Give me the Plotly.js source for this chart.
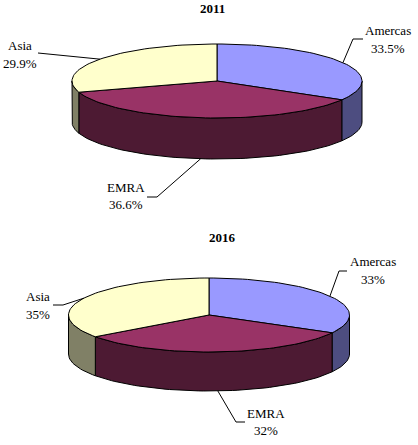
<!DOCTYPE html>
<html>
<head>
<meta charset="utf-8">
<script src="https://cdn.plot.ly/plotly-3.0.1.min.js"></script>
<style>html,body{margin:0;padding:0;background:#fff}#chart{width:418px;height:445px}</style>
</head>
<body>
<div id="chart"></div>
<script>
var categories = ['Amercas', 'EMRA', 'Asia'];
var values2011 = [33.5, 36.6, 29.9];
var values2016 = [33, 32, 35];
var years = ['2011', '2016'];

var topColors = ['#9999FF', '#993366', '#FFFFCC'];
var sideColors = ['#4D4D80', '#4D1A33', '#808066'];

var pies = [
  {year: years[0], values: values2011, cx: 217, cy: 81, rx: 145, ry: 37, depth: 41, titleX: 212, titleY: 8,
   leaders: [[[353, 39], [363, 39]], [[157, 197], [147, 197]], [[38, 53]]],
   labels: [[388, 30, 48], [126, 187, 204], [20, 45, 63]]},
  {year: years[1], values: values2016, cx: 209, cy: 315, rx: 140.5, ry: 37, depth: 39, titleX: 222, titleY: 237,
   leaders: [[[339, 271], [347, 271]], [[236, 422], [245, 422]], [[63, 305], [53, 305]]],
   labels: [[373, 261, 279], [266, 413, 430], [38, 296, 314]]}
];

function pt(p, deg, drop) {
  var a = deg * Math.PI / 180;
  return [p.cx + p.rx * Math.sin(a), p.cy - p.ry * Math.cos(a) + (drop || 0)];
}
function arc(p, a, b, drop) {
  var out = [], n = Math.max(2, Math.ceil(Math.abs(b - a) / 2));
  for (var i = 0; i <= n; i++) out.push(pt(p, a + (b - a) * i / n, drop));
  return out;
}
function poly(points, fill) {
  return {
    type: 'scatter', mode: 'lines', fill: 'toself', fillcolor: fill,
    x: points.map(function (q) { return q[0]; }),
    y: points.map(function (q) { return q[1]; }),
    line: {color: '#000', width: 1}, hoverinfo: 'skip', showlegend: false
  };
}
function line(points) {
  return {
    type: 'scatter', mode: 'lines',
    x: points.map(function (q) { return q[0]; }),
    y: points.map(function (q) { return q[1]; }),
    line: {color: '#000', width: 1}, hoverinfo: 'skip', showlegend: false
  };
}
function note(x, y, text, bold) {
  return {
    x: x, y: y, xref: 'x', yref: 'y', text: bold ? '<b>' + text + '</b>' : text,
    showarrow: false, xanchor: 'center', yanchor: 'middle',
    font: {family: '"Liberation Serif", serif', size: 13, color: '#000'}
  };
}

var traces = [], annotations = [];
pies.forEach(function (p) {
  var total = p.values.reduce(function (s, v) { return s + v; }, 0), start = 0, spans = [];
  p.values.forEach(function (v) {
    var end = start + v / total * 360;
    spans.push([start, end]);
    start = end;
  });
  // side walls: only the front half of the rim shows
  spans.forEach(function (s, i) {
    var a = Math.max(s[0], 90), b = Math.min(s[1], 270);
    if (b <= a) return;
    traces.push(poly(arc(p, a, b, 0).concat(arc(p, b, a, p.depth)).concat([pt(p, a, 0)]), sideColors[i]));
  });
  // top faces
  spans.forEach(function (s, i) {
    var pts = [[p.cx, p.cy]].concat(arc(p, s[0], s[1], 0)).concat([[p.cx, p.cy]]);
    traces.push(poly(pts, topColors[i]));
  });
  // leaders and labels
  spans.forEach(function (s, i) {
    var mid = (s[0] + s[1]) / 2;
    var front = mid > 90 && mid < 270;
    traces.push(line([pt(p, mid, front ? p.depth : 0)].concat(p.leaders[i])));
    var l = p.labels[i];
    annotations.push(note(l[0], l[1], categories[i]));
    annotations.push(note(l[0], l[2], p.values[i] + '%'));
  });
  annotations.push(note(p.titleX, p.titleY, p.year, true));
});

Plotly.newPlot('chart', traces, {
  width: 418, height: 445,
  margin: {l: 0, r: 0, t: 0, b: 0},
  paper_bgcolor: '#fff', plot_bgcolor: '#fff',
  showlegend: false,
  xaxis: {range: [0, 418], visible: false, fixedrange: true},
  yaxis: {range: [445, 0], visible: false, fixedrange: true},
  annotations: annotations
}, {displayModeBar: false, staticPlot: true});
</script>
</body>
</html>
